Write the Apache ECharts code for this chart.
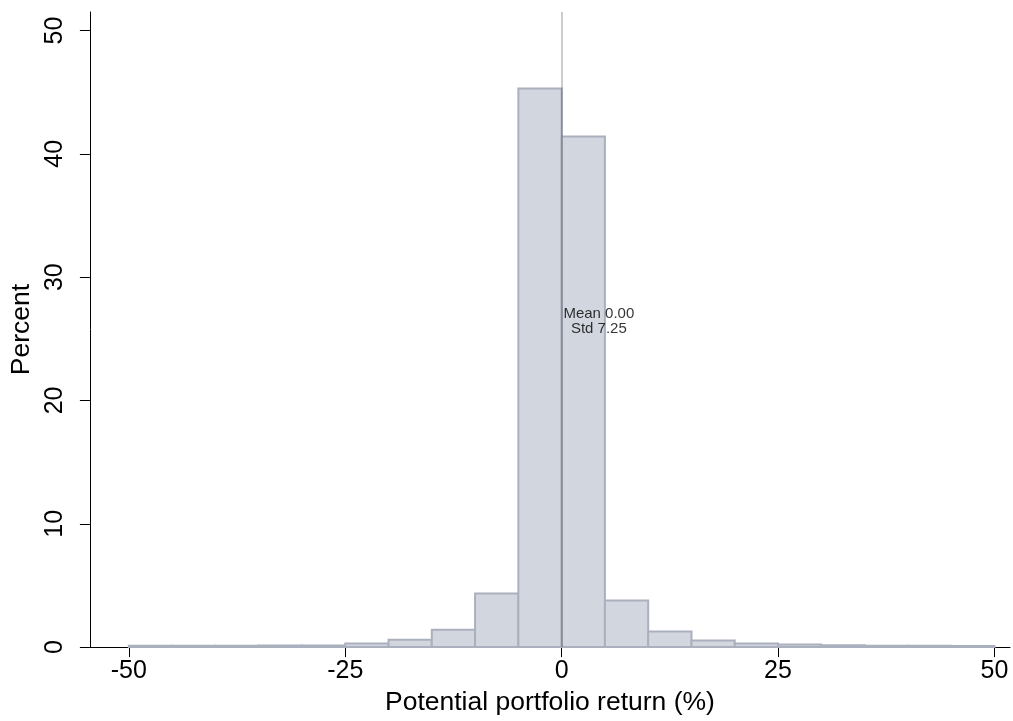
<!DOCTYPE html>
<html>
<head>
<meta charset="utf-8">
<script src="https://cdn.jsdelivr.net/npm/echarts@6/dist/echarts.min.js"></script>
<style>html,body{margin:0;padding:0;background:#fff}#chart{width:1013px;height:721px}</style>
</head>
<body>
<div id="chart"></div>
<script>
// Histogram bins (left edges, width 5) and percent in each bin
const binStarts = [-50,-45,-40,-35,-30,-25,-20,-15,-10,-5,0,5,10,15,20,25,30,35,40,45];
const binWidth = 5;
const percents = [0.1,0.1,0.1,0.12,0.12,0.3,0.59,1.4,4.35,45.3,41.4,3.77,1.27,0.54,0.3,0.22,0.16,0.1,0.1,0.08];
const xTicks = [-50,-25,0,25,50];
const yTicks = [0,10,20,30,40,50];
const meanValue = 0.00;
const stdValue = 7.25;
const statsLabelPos = [4.3, 26.4];

const barData = binStarts.map((s,i)=>[s, s+binWidth, percents[i]]);
const FONT = '"Liberation Sans", Arial, Helvetica, sans-serif';

const chart = echarts.init(document.getElementById('chart'), null, {renderer:'canvas'});
chart.setOption({
  animation:false,
  backgroundColor:'#fff',
  grid:{left:86, right:3, top:12, bottom:72, containLabel:false},
  xAxis:{
    type:'value', min:-54.5, max:51.8,
    name:'Potential portfolio return (%)', nameLocation:'middle', nameGap:40,
    nameTextStyle:{fontFamily:FONT, fontSize:26.5, color:'#000'},
    axisLine:{show:true, onZero:false, lineStyle:{color:'#000', width:1}},
    axisTick:{show:true, length:10, lineStyle:{color:'#000', width:1}, customValues:xTicks},
    axisLabel:{show:true, margin:12, fontFamily:FONT, fontSize:25, color:'#000', customValues:xTicks},
    splitLine:{show:false}
  },
  yAxis:{
    type:'value', min:0, max:51.5,
    name:'Percent', nameLocation:'middle', nameGap:50,
    nameTextStyle:{fontFamily:FONT, fontSize:26.5, color:'#000'},
    axisLine:{show:true, onZero:false, lineStyle:{color:'#000', width:1}},
    axisTick:{show:true, length:10, lineStyle:{color:'#000', width:1}, customValues:yTicks},
    axisLabel:{show:true, rotate:90, margin:22, fontFamily:FONT, fontSize:25, color:'#000', customValues:yTicks},
    splitLine:{show:false}
  },
  series:[
    {
      type:'custom',
      data:barData,
      encode:{x:[0,1], y:2},
      renderItem:function(params, api){
        const p0 = api.coord([api.value(0), 0]);
        const p1 = api.coord([api.value(1), api.value(2)]);
        return {
          type:'rect',
          shape:{x:p0[0], y:p1[1], width:p1[0]-p0[0], height:p0[1]-p1[1]},
          style:{fill:'#d2d6df', stroke:'#aab0bd', lineWidth:2}
        };
      },
      z:2
    },
    {
      type:'line',
      data:[],
      z:3,
      markLine:{
        silent:true, symbol:['none','none'],
        label:{show:false},
        lineStyle:{color:'rgba(0,0,0,0.2)', width:2, type:'solid'},
        data:[{xAxis:meanValue}]
      }
    },
    {
      type:'scatter',
      data:[statsLabelPos],
      symbolSize:0,
      z:4,
      label:{
        show:true, position:'inside',
        formatter:'Mean ' + meanValue.toFixed(2) + '\nStd ' + stdValue.toFixed(2),
        fontFamily:FONT, fontSize:15, lineHeight:15, color:'#000', align:'center'
      }
    }
  ]
});
</script>
</body>
</html>
